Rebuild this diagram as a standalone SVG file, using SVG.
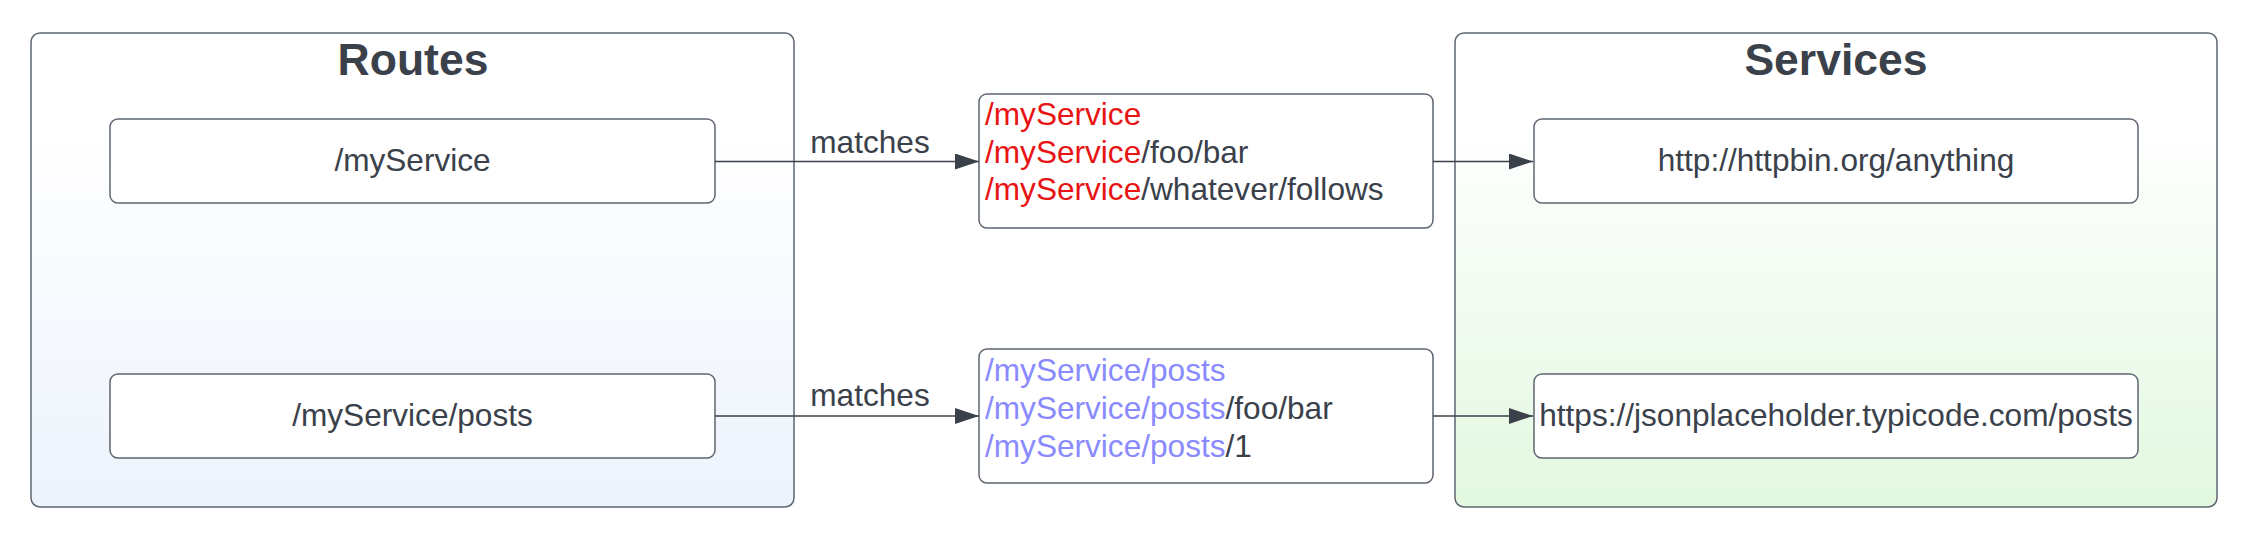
<svg xmlns="http://www.w3.org/2000/svg" width="2242" height="538" viewBox="0 0 2242 538">
<style>
text{font-family:"Liberation Sans",Arial,sans-serif;fill:#3a414a}
.t{font-size:44.5px;font-weight:bold;text-anchor:middle}
.n{font-size:31.6px}
.c{text-anchor:middle}
.box{fill:#ffffff;stroke:#5e6670;stroke-width:1.5}
.red{fill:#e81414}
.pur{fill:#8a8aff}
.edge{stroke:#3a414a;stroke-width:1.5;fill:none}
</style>
<defs>
<linearGradient id="gb" x1="0" y1="0" x2="0" y2="1">
<stop offset="0.2" stop-color="#ffffff"/>
<stop offset="1" stop-color="#edf3fd"/>
</linearGradient>
<linearGradient id="gg" x1="0" y1="0" x2="0" y2="1">
<stop offset="0.2" stop-color="#ffffff"/>
<stop offset="1" stop-color="#e2f8e0"/>
</linearGradient>
<marker id="arr" markerWidth="24" markerHeight="16" refX="24" refY="8" orient="auto" markerUnits="userSpaceOnUse">
<path d="M0,0 L24,8 L0,16 Z" fill="#3a414a"/>
</marker>
</defs>
<g id="routes">
<rect x="31" y="33" width="763" height="474" rx="9" fill="url(#gb)" stroke="#5e6670" stroke-width="1.5"/>
<text class="t" x="413" y="75">Routes</text>
</g>
<g id="services">
<rect x="1455" y="33" width="762" height="474" rx="9" fill="url(#gg)" stroke="#5e6670" stroke-width="1.5"/>
<text class="t" x="1836" y="75">Services</text>
</g>
<g id="route1">
<rect class="box" x="110" y="119" width="605" height="84" rx="8"/>
<text class="n c" x="412.5" y="171">/myService</text>
</g>
<g id="route2">
<rect class="box" x="110" y="374" width="605" height="84" rx="8"/>
<text class="n c" x="412.5" y="426">/myService/posts</text>
</g>
<g id="matches1">
<rect class="box" x="979" y="94" width="454" height="134" rx="8"/>
<text class="n" x="985" y="125"><tspan class="red">/myService</tspan></text>
<text class="n" x="985" y="163"><tspan class="red">/myService</tspan>/foo/bar</text>
<text class="n" x="985" y="200"><tspan class="red">/myService</tspan>/whatever/follows</text>
</g>
<g id="matches2">
<rect class="box" x="979" y="349" width="454" height="134" rx="8"/>
<text class="n" x="985" y="381"><tspan class="pur">/myService/posts</tspan></text>
<text class="n" x="985" y="419"><tspan class="pur">/myService/posts</tspan>/foo/bar</text>
<text class="n" x="985" y="457"><tspan class="pur">/myService/posts</tspan>/1</text>
</g>
<g id="service1">
<rect class="box" x="1534" y="119" width="604" height="84" rx="8"/>
<text class="n c" x="1836" y="171">http://httpbin.org/anything</text>
</g>
<g id="service2">
<rect class="box" x="1534" y="374" width="604" height="84" rx="8"/>
<text class="n c" x="1836" y="426">https://jsonplaceholder.typicode.com/posts</text>
</g>
<g id="connectors">
<line class="edge" x1="715" y1="161.5" x2="979" y2="161.5" marker-end="url(#arr)"/>
<text class="n c" x="870" y="153">matches</text>
<line class="edge" x1="715" y1="416" x2="979" y2="416" marker-end="url(#arr)"/>
<text class="n c" x="870" y="406">matches</text>
<line class="edge" x1="1433" y1="161.5" x2="1533" y2="161.5" marker-end="url(#arr)"/>
<line class="edge" x1="1433" y1="416" x2="1533" y2="416" marker-end="url(#arr)"/>
</g>
</svg>
